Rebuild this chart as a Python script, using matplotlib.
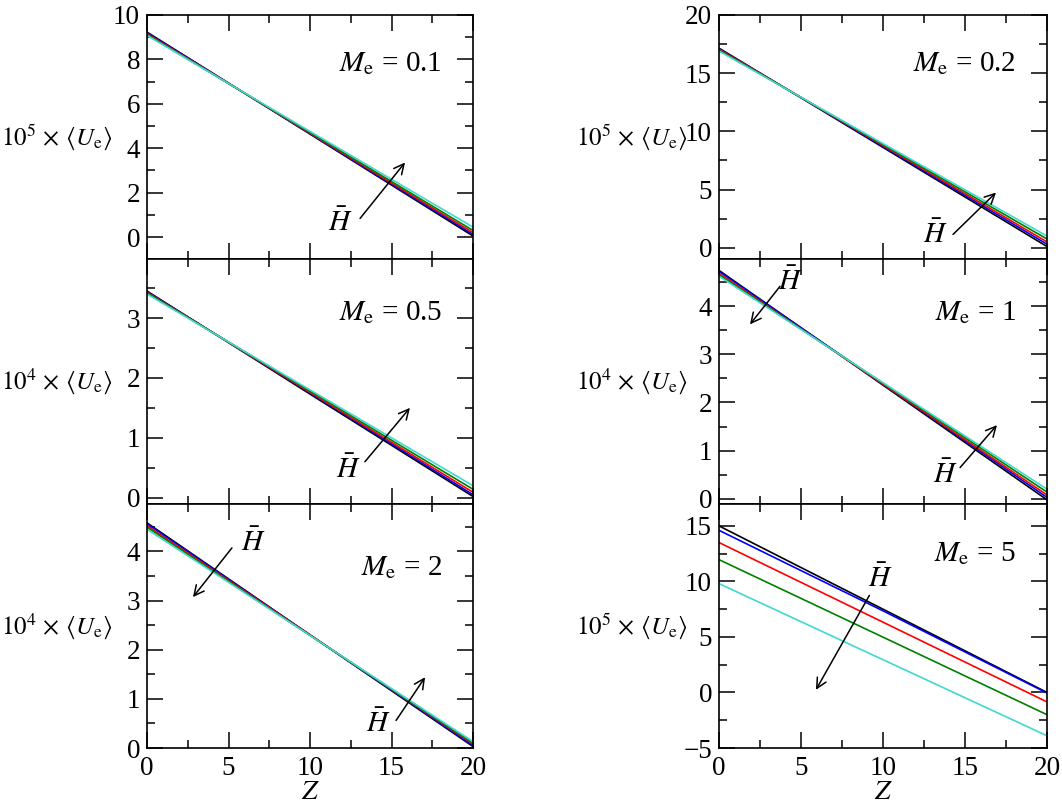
import numpy as np
import matplotlib
matplotlib.use('Agg')
import matplotlib.pyplot as plt
from matplotlib.ticker import MultipleLocator

plt.rcParams['font.family'] = ['Liberation Serif', 'DejaVu Serif']
plt.rcParams['mathtext.fontset'] = 'stix'
plt.rcParams['font.size'] = 20

# Z positions where values were read
z = [0, 10, 20]
kolory = ['black', 'blue', 'red', 'green', '#40d8d0']

# values, one row per H-bar curve (black, blue, red, green, cyan)
u_01 = [[9.23, 4.64, 0.05], [9.20, 4.66, 0.12], [9.16, 4.68, 0.20], [9.12, 4.71, 0.30], [9.08, 4.76, 0.45]]
u_02 = [[17.15, 8.62, 0.10], [17.10, 8.70, 0.30], [17.05, 8.78, 0.50], [16.98, 8.86, 0.75], [16.90, 8.95, 1.00]]
u_05 = [[3.45, 1.73, 0.02], [3.44, 1.75, 0.05], [3.43, 1.76, 0.09], [3.42, 1.78, 0.14], [3.40, 1.80, 0.20]]
u_1 = [[4.74, 2.36, -0.02], [4.72, 2.38, 0.03], [4.68, 2.38, 0.08], [4.65, 2.40, 0.14], [4.62, 2.41, 0.20]]
u_2 = [[4.58, 2.30, 0.03], [4.56, 2.30, 0.05], [4.52, 2.30, 0.08], [4.49, 2.29, 0.10], [4.45, 2.29, 0.13]]
u_5 = [[15.0, 7.50, 0.0], [14.6, 7.35, -0.05], [13.5, 6.33, -0.85], [11.96, 4.98, -2.0], [9.8, 2.95, -3.9]]

# panel settings: (data, Me label, ylim, major ticks, minor step, label exponent)
panele = [
    (u_01, '0.1', (-1, 10), [0, 2, 4, 6, 8, 10], 1, 5),
    (u_02, '0.2', (-1, 20), [0, 5, 10, 15, 20], 2.5, 5),
    (u_05, '0.5', (-0.1, 3.98), [0, 1, 2, 3], 0.5, 4),
    (u_1, '1', (-0.1, 4.97), [0, 1, 2, 3, 4], 0.5, 4),
    (u_2, '2', (0, 4.97), [0, 1, 2, 3, 4], 0.5, 4),
    (u_5, '5', (-5, 17), [-5, 0, 5, 10, 15], 2.5, 5),
]

# arrows: (panel index, tail, head, label position)
strzalki = [
    (0, (13.07, 0.84), (15.83, 3.36), (11.84, 0.66)),
    (1, (14.27, 1.14), (16.89, 4.74), (13.17, 1.10)),
    (2, (13.37, 0.60), (16.13, 1.50), (12.33, 0.46)),
    (3, (3.72, 4.41), (1.89, 3.62), (4.33, 4.51)),
    (3, (14.70, 0.65), (16.95, 1.53), (13.78, 0.49)),
    (4, (15.28, 0.56), (17.06, 1.44), (14.17, 0.50)),
    (4, (5.21, 4.07), (2.82, 3.07), (6.50, 4.18)),
    (5, (9.17, 8.74), (5.91, 0.24), (9.86, 10.27)),
]

me_y = [0.80, 0.80, 0.78, 0.78, 0.74, 0.795]

fig = plt.figure(figsize=(10.62, 8.09), dpi=100)
W, H = 1062, 809
lewo = [147, 719]
szer = [326, 328]
gora = 15
wys = (748 - 15) / 3

osie = []
for i, (dane, me, ylim, yt, ymin, wyk) in enumerate(panele):
    kol = i % 2
    rz = i // 2
    x0 = lewo[kol] / W
    y0 = 1 - (gora + (rz + 1) * wys) / H
    ax = fig.add_axes([x0, y0, szer[kol] / W, wys / H])
    for d, c in zip(dane, kolory):
        ax.plot(z, d, color=c, lw=1.2)
    ax.set_xlim(0, 20)
    ax.set_ylim(*ylim)
    ax.set_xticks([0, 5, 10, 15, 20])
    ax.xaxis.set_minor_locator(MultipleLocator(2.5))
    ax.set_yticks(yt)
    ax.yaxis.set_minor_locator(MultipleLocator(ymin))
    ax.set_ylim(*ylim)
    ax.tick_params(which='both', direction='in', top=True, right=True, width=1.1)
    ax.tick_params(which='major', length=11.5, labelsize=19.5)
    ax.tick_params(axis='x', which='major', pad=6)
    ax.tick_params(axis='y', which='major', pad=5)
    ax.tick_params(which='minor', length=6)
    for s in ax.spines.values():
        s.set_linewidth(1.2)
    if rz < 2:
        ax.tick_params(labelbottom=False)
    else:
        ax.set_xlabel(r'$Z$', fontsize=20, labelpad=-1)
    ax.set_ylabel(r'$10^%d\,\times\,\langle U_{\mathrm{e}} \rangle$' % wyk, rotation=0,
                  ha='right', va='center', fontsize=18)
    ax.yaxis.set_label_coords(-0.107 if kol == 0 else -0.095, 0.5)
    ax.text(0.905, me_y[i], r'$M_{\mathrm{e}}$ = ' + me, transform=ax.transAxes,
            ha='right', va='center', fontsize=21)
    osie.append(ax)

for p, ogon, grot, etyk in strzalki:
    ax = osie[p]
    ax.annotate('', xy=grot, xytext=ogon,
                arrowprops=dict(arrowstyle='->', color='black', lw=1.1,
                                shrinkA=0, shrinkB=0, mutation_scale=18))
    ax.text(etyk[0], etyk[1], r'$\bar{H}$', ha='center', va='center', fontsize=21)

fig.savefig('out.png', dpi=100)
